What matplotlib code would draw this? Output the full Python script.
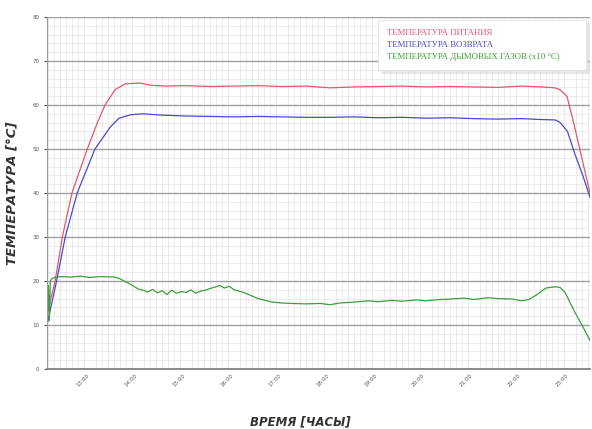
import matplotlib
matplotlib.use('Agg')
import matplotlib.pyplot as plt
from matplotlib.ticker import MultipleLocator, FixedLocator

# time in hours, temperatures
supply_t = [12.10, 12.18, 12.27, 12.42, 12.62, 12.94, 13.15, 13.31, 13.52, 13.73, 14.04, 14.25,
            14.56, 15.0, 15.5, 16.0, 16.5, 17.0, 17.5, 18.0, 18.5, 19.0, 19.5, 20.0, 20.5,
            21.0, 21.5, 22.0, 22.4, 22.69, 22.79, 22.94, 23.10, 23.27, 23.42]
supply_v = [12.0, 16.0, 20.0, 30.0, 40.0, 50.0, 56.0, 60.0, 63.5, 64.8, 65.0, 64.5,
            64.3, 64.4, 64.2, 64.3, 64.4, 64.2, 64.3, 63.9, 64.1, 64.2, 64.3, 64.1, 64.2,
            64.1, 64.0, 64.3, 64.1, 63.9, 63.5, 62.0, 55.0, 47.0, 40.0]

return_t = [12.10, 12.20, 12.30, 12.48, 12.73, 13.10, 13.42, 13.60, 13.85, 14.10, 14.50,
            15.0, 15.5, 16.0, 16.5, 17.0, 17.5, 18.0, 18.5, 19.0, 19.5, 20.0, 20.5,
            21.0, 21.5, 22.0, 22.4, 22.70, 22.80, 22.95, 23.10, 23.27, 23.42]
return_v = [10.0, 15.0, 20.0, 30.0, 40.0, 50.0, 55.0, 57.0, 57.8, 58.0, 57.7,
            57.5, 57.4, 57.3, 57.4, 57.3, 57.2, 57.2, 57.3, 57.1, 57.2, 57.0, 57.1,
            56.9, 56.8, 56.9, 56.7, 56.6, 56.0, 54.0, 49.0, 44.0, 39.0]

flue_t = [12.10, 12.13, 12.15, 12.17, 12.20, 12.25, 12.40, 12.60, 12.80, 13.00, 13.20, 13.50,
          13.60, 13.80, 14.00, 14.10, 14.20, 14.30, 14.40, 14.50, 14.60, 14.70, 14.80, 14.90,
          15.00, 15.10, 15.20, 15.30, 15.40, 15.50, 15.60, 15.70, 15.80, 15.90, 16.00, 16.20,
          16.50, 16.80, 17.00, 17.20, 17.50, 17.80, 18.00, 18.20, 18.50, 18.80, 19.00, 19.30,
          19.50, 19.80, 20.00, 20.30, 20.50, 20.80, 21.00, 21.30, 21.50, 21.80, 22.00, 22.15,
          22.30, 22.50, 22.70, 22.80, 22.90, 23.10, 23.30, 23.42]
flue_v = [10.0, 19.0, 11.0, 20.0, 20.5, 20.8, 21.0, 20.9, 21.1, 20.8, 21.0, 20.9,
          20.6, 19.5, 18.2, 17.9, 17.5, 18.1, 17.3, 17.8, 16.9, 17.9, 17.2, 17.6,
          17.4, 18.0, 17.2, 17.7, 17.9, 18.3, 18.6, 19.0, 18.4, 18.8, 18.0, 17.4,
          16.0, 15.2, 15.0, 14.9, 14.8, 14.9, 14.6, 15.0, 15.2, 15.5, 15.3, 15.6,
          15.4, 15.7, 15.5, 15.8, 15.9, 16.1, 15.8, 16.2, 16.0, 15.9, 15.5, 15.8,
          16.8, 18.4, 18.7, 18.5, 17.4, 13.0, 9.0, 6.5]

hour_ticks = [13, 14, 15, 16, 17, 18, 19, 20, 21, 22, 23]
hour_labels = ['13:00', '14:00', '15:00', '16:00', '17:00', '18:00',
               '19:00', '20:00', '21:00', '22:00', '23:00']

labels = ['ТЕМПЕРАТУРА ПИТАНИЯ', 'ТЕМПЕРАТУРА ВОЗВРАТА',
          'ТЕМПЕРАТУРА ДЫМОВЫХ ГАЗОВ (x10 °C)']
colors = ['#dc5a6a', '#4a4ac4', '#3c9e3c']

fig = plt.figure(figsize=[5.92, 4.29], dpi=100)
ax = fig.add_axes([47 / 592, 1 - 369 / 429, 543 / 592, 352 / 429])

ax.plot(supply_t, supply_v, c=colors[0], lw=0.9, label=labels[0])
ax.plot(return_t, return_v, c=colors[1], lw=0.9, label=labels[1])
ax.plot(flue_t, flue_v, c=colors[2], lw=0.9, label=labels[2])

ax.set_xlim(12.1, 23.42)
ax.set_ylim(0, 80)
ax.yaxis.set_major_locator(MultipleLocator(10))
ax.yaxis.set_minor_locator(MultipleLocator(2))
ax.xaxis.set_major_locator(FixedLocator(hour_ticks))
ax.xaxis.set_minor_locator(MultipleLocator(1 / 8))
ax.set_xticklabels(hour_labels, rotation=45, ha='right', fontsize=4, color='#555555')
ax.tick_params(axis='y', labelsize=4, colors='#555555', length=2)
ax.tick_params(axis='x', length=0, pad=3)
ax.tick_params(which='minor', length=0)

ax.grid(axis='y', which='major', color='#a0a0a0', lw=1.0)
ax.grid(axis='x', which='minor', color='#e4e4e4', lw=0.5)
ax.grid(axis='y', which='minor', color='#e4e4e4', lw=0.5)
ax.set_axisbelow(True)
for s in ['top', 'right']:
    ax.spines[s].set_visible(False)
ax.spines['left'].set_color('#999999')
ax.spines['bottom'].set_color('#777777')
ax.spines['bottom'].set_linewidth(1.2)

leg = ax.legend(loc='upper left', bbox_to_anchor=(378 / 592, 1 - 72 / 429, 208 / 592, 52 / 429),
                bbox_transform=fig.transFigure, mode='expand', handlelength=0,
                handletextpad=0, labelcolor='linecolor', fancybox=False,
                shadow={'color': '#d4d4d4'},
                prop={'family': 'Liberation Serif', 'size': 6.3}, borderpad=1.0,
                borderaxespad=0, labelspacing=0.45, framealpha=1)
leg.get_frame().set_edgecolor('#e0e0e0')
leg.get_frame().set_linewidth(0.6)
for h in leg.legend_handles:
    h.set_visible(False)

ax.set_ylabel('ТЕМПЕРАТУРА [°C]', fontsize=9.5, fontweight='bold', style='italic', color='#333333')
ax.yaxis.set_label_coords(-0.053, 0.5)
ax.set_xlabel('ВРЕМЯ [ЧАСЫ]', fontsize=8.5, fontweight='bold', style='italic', color='#333333')
ax.xaxis.set_label_coords(0.466, -0.133)

fig.savefig('out.png', dpi=100)
plt.close('all')
